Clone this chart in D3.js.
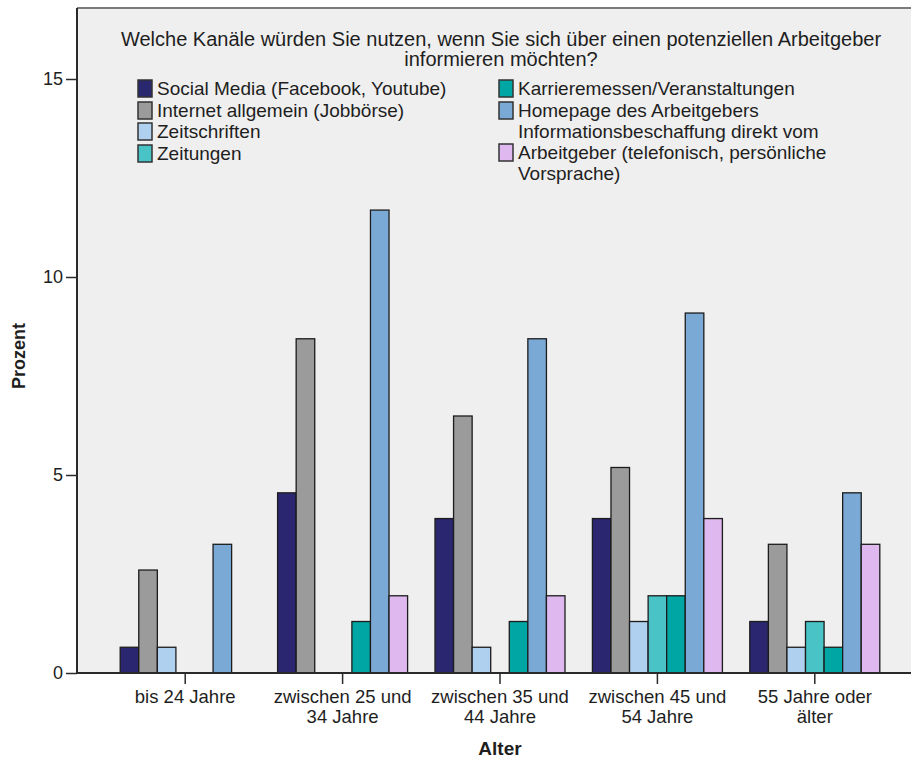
<!DOCTYPE html>
<html>
<head>
<meta charset="utf-8">
<script src="https://cdn.jsdelivr.net/npm/d3@7"></script>
<style>
  html, body { margin: 0; padding: 0; background: #ffffff; }
  svg { display: block; }
  text { font-family: "Liberation Sans", Arial, sans-serif; fill: #1e1e1e; }
</style>
</head>
<body>
<svg id="chart" width="911" height="760"></svg>
<script>
// Age groups (x axis categories, two-line labels)
const categories = ["bis 24 Jahre", "zwischen 25 und 34 Jahre", "zwischen 35 und 44 Jahre", "zwischen 45 und 54 Jahre", "55 Jahre oder älter"];
const categoryLines = [["bis 24 Jahre"], ["zwischen 25 und", "34 Jahre"], ["zwischen 35 und", "44 Jahre"], ["zwischen 45 und", "54 Jahre"], ["55 Jahre oder", "älter"]];

// Channels (series)
const series = [
  "Social Media (Facebook, Youtube)",
  "Internet allgemein (Jobbörse)",
  "Zeitschriften",
  "Zeitungen",
  "Karrieremessen/Veranstaltungen",
  "Homepage des Arbeitgebers",
  "Informationsbeschaffung direkt vom Arbeitgeber (telefonisch, persönliche Vorsprache)"
];
const seriesColors = ["#29286f", "#9b9b9b", "#afd1ef", "#48c3c6", "#00a6a3", "#7aa9d6", "#dfb8f0"];

// Percent values per channel, one entry per age group
const socialMedia   = [0.65, 4.55, 3.90, 3.90, 1.30];
const internet      = [2.60, 8.44, 6.49, 5.19, 3.25];
const zeitschriften = [0.65, 0.00, 0.65, 1.30, 0.65];
const zeitungen     = [0.00, 0.00, 0.00, 1.95, 1.30];
const karriere      = [0.00, 1.30, 1.30, 1.95, 0.65];
const homepage      = [3.25, 11.69, 8.44, 9.09, 4.55];
const direkt        = [0.00, 1.95, 1.95, 3.90, 3.25];
const seriesValues = [socialMedia, internet, zeitschriften, zeitungen, karriere, homepage, direkt];

const yTicks = [0, 5, 10, 15];

const titleLines = ["Welche Kanäle würden Sie nutzen, wenn Sie sich über einen potenziellen Arbeitgeber", "informieren möchten?"];

const svg = d3.select("#chart");

// Plot area
const plot = { left: 77, top: 8, right: 925, bottom: 673 };

svg.append("rect")
  .attr("x", plot.left).attr("y", plot.top)
  .attr("width", plot.right - plot.left).attr("height", plot.bottom - plot.top)
  .attr("fill", "#efefef");

// Top frame edge
svg.append("line")
  .attr("x1", plot.left).attr("x2", plot.right)
  .attr("y1", plot.top).attr("y2", plot.top)
  .attr("stroke", "#7a7a7a").attr("stroke-width", 2);

const y = d3.scaleLinear().domain([0, 15]).range([plot.bottom, 79]);

const x0 = d3.scaleBand().domain(categories).range([106.5, 893.5]).padding(0);
const groupWidth = 130;
const x1 = d3.scaleBand().domain(series).range([0, groupWidth]).padding(0);

// Bars
const flat = [];
categories.forEach((c, ci) => {
  series.forEach((s, si) => {
    flat.push({ cat: c, ser: s, si, v: seriesValues[si][ci] });
  });
});

const defs = svg.append("defs");
defs.append("filter").attr("id", "soft")
  .append("feGaussianBlur").attr("stdDeviation", 0.45);
const barG = svg.append("g").attr("filter", "url(#soft)");

barG.selectAll("rect")
  .data(flat.filter(d => d.v > 0))
  .join("rect")
  .attr("x", d => x0(d.cat) + (x0.bandwidth() - groupWidth) / 2 + x1(d.ser))
  .attr("y", d => y(d.v))
  .attr("width", x1.bandwidth())
  .attr("height", d => y(0) - y(d.v))
  .attr("fill", d => seriesColors[d.si])
  .attr("stroke", "#1c1c1c")
  .attr("stroke-width", 1.3);

// Y axis
const yAxis = d3.axisLeft(y).tickValues(yTicks).tickSize(11).tickPadding(3);
const yg = svg.append("g").attr("transform", `translate(${plot.left},0)`).call(yAxis);
yg.select(".domain").attr("d", `M0,${plot.top}V${plot.bottom}`).attr("stroke", "#2a2a2a").attr("stroke-width", 2);
yg.selectAll(".tick line").attr("stroke", "#2a2a2a").attr("stroke-width", 1.5);
yg.selectAll(".tick text").attr("font-size", 18).attr("fill", "#333").attr("font-family", "Liberation Sans, Arial, sans-serif");

// X axis
const xAxis = d3.axisBottom(x0).tickSize(11).tickFormat(() => "");
const xg = svg.append("g").attr("transform", `translate(0,${plot.bottom})`).call(xAxis);
xg.select(".domain").attr("d", `M${plot.left},0H${plot.right}`).attr("stroke", "#2a2a2a").attr("stroke-width", 2);
xg.selectAll(".tick line").attr("stroke", "#2a2a2a").attr("stroke-width", 1.5);
xg.selectAll(".tick").each(function(d, i) {
  const t = d3.select(this).append("text")
    .attr("text-anchor", "middle")
    .attr("font-size", 18.5)
    .attr("fill", "#222");
  categoryLines[i].forEach((line, li) => {
    t.append("tspan").attr("x", 0).attr("y", 30 + li * 20).text(line);
  });
});

// Axis titles
svg.append("text")
  .attr("x", 500).attr("y", 755)
  .attr("text-anchor", "middle")
  .attr("font-size", 19).attr("font-weight", "bold")
  .text("Alter");

svg.append("text")
  .attr("transform", "translate(25,356) rotate(-90)")
  .attr("text-anchor", "middle")
  .attr("font-size", 18).attr("font-weight", "bold")
  .text("Prozent");

// Chart title
titleLines.forEach((line, i) => {
  svg.append("text")
    .attr("x", 501).attr("y", 46 + i * 20)
    .attr("text-anchor", "middle")
    .attr("font-size", 20)
    .text(line);
});

// Legend
const legendItems = [
  { si: 0, x: 138, y: 88, lines: ["Social Media (Facebook, Youtube)"] },
  { si: 1, x: 138, y: 110, lines: ["Internet allgemein (Jobbörse)"] },
  { si: 2, x: 138, y: 131, lines: ["Zeitschriften"] },
  { si: 3, x: 138, y: 153, lines: ["Zeitungen"] },
  { si: 4, x: 499, y: 88, lines: ["Karrieremessen/Veranstaltungen"] },
  { si: 5, x: 499, y: 110, lines: ["Homepage des Arbeitgebers"] },
  { si: 6, x: 499, y: 152, lines: ["Informationsbeschaffung direkt vom", "Arbeitgeber (telefonisch, persönliche", "Vorsprache)"] }
];
const lg = svg.append("g");
legendItems.forEach(it => {
  lg.append("rect")
    .attr("x", it.x).attr("y", it.y - 8)
    .attr("width", 14).attr("height", 17)
    .attr("fill", seriesColors[it.si])
    .attr("stroke", "#333").attr("stroke-width", 1.5);
  const n = it.lines.length;
  const t = lg.append("text").attr("font-size", 19);
  it.lines.forEach((line, li) => {
    const off = n === 1 ? 0 : (li - 1) * 21;
    t.append("tspan").attr("x", it.x + 19).attr("y", it.y + 7 + off).text(line);
  });
});
</script>
</body>
</html>
